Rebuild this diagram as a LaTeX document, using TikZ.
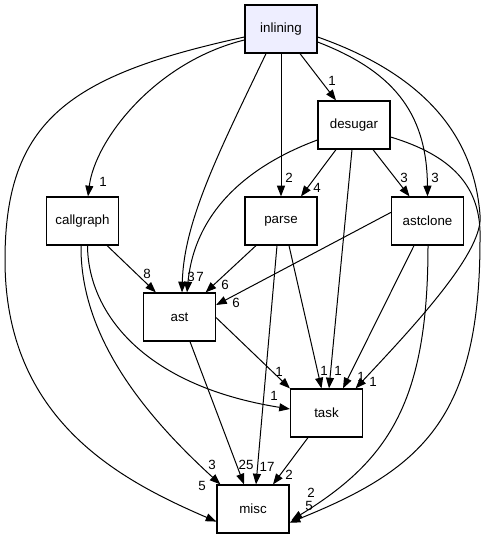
\documentclass[tikz,border=0pt]{standalone}
\usepackage{fontspec}
\setmainfont{Liberation Sans}
\usetikzlibrary{arrows.meta}
\definecolor{rootfill}{HTML}{EEEEFF}
\begin{document}
\begin{tikzpicture}[x=0.75pt,y=-0.75pt,
  dirbox/.style={draw=black,line width=0.9pt,fill=white,minimum width=54pt,minimum height=36pt,inner sep=0pt,font=\fontsize{10}{12}\selectfont},
  dep/.style={draw=black,line width=0.75pt,-{Triangle[length=8pt,width=6pt]}},
  lbl/.style={font=\fontsize{10}{12}\selectfont,inner sep=0pt}]
\useasboundingbox (0,0) rectangle (487,539);
% nodes
\node[dirbox,fill=rootfill] (inlining) at (281,29) {inlining};
\node[dirbox] (desugar) at (354,125) {desugar};
\node[dirbox] (callgraph) at (82.5,221) {callgraph};
\node[dirbox] (parse) at (281,221) {parse};
\node[dirbox] (astclone) at (427.5,221) {astclone};
\node[dirbox] (ast) at (179.5,317) {ast};
\node[dirbox] (task) at (326.5,413) {task};
\node[dirbox] (misc) at (253,509) {misc};
% edges from inlining
\draw[dep] ([shift={(19,0)}]inlining.south) -- ([shift={(-18,0)}]desugar.north);
\node[lbl] (l1) at (332,81) {1};
\draw[dep] ([shift={(0,11)}]inlining.west) .. controls (155,62) and (95,140) .. ([shift={(5.5,0)}]callgraph.north);
\node[lbl] (l2) at (103,182) {1};
\draw[dep] (inlining.south) -- (parse.north);
\node[lbl] (l3) at (289,178) {2};
\draw[dep] ([shift={(-15,0)}]inlining.south) .. controls (220,150) and (184,220) .. ([shift={(2.5,0)}]ast.north);
\node[lbl] (l4) at (191,277) {3};
\draw[dep] ([shift={(0,13)}]inlining.east) .. controls (390,70) and (427,110) .. (astclone.north);
\node[lbl] (l5) at (435,178) {3};
\draw[dep] ([shift={(0,8)}]inlining.east) .. controls (440,80) and (475,150) .. (480,215) .. controls (484,250) and (420,320) .. ([shift={(-7.5,0)}]task.north east);
\node[lbl] (l6) at (373,382) {1};
\draw[dep] ([shift={(0,8)}]inlining.west) .. controls (70,75) and (5,120) .. (5,260) .. controls (5,420) and (120,480) .. ([shift={(0,-12)}]misc.south west);
\node[lbl] (l7) at (202,486) {5};
% edges from desugar
\draw[dep] ([shift={(-18,0)}]desugar.south) -- ([shift={(20,0)}]parse.north);
\node[lbl] (l8) at (317,188) {4};
\draw[dep] ([shift={(19,0)}]desugar.south) -- ([shift={(-18,0)}]astclone.north);
\node[lbl] (l9) at (404,178) {3};
\draw[dep] ([shift={(0,15)}]desugar.west) .. controls (250,165) and (195,210) .. ([shift={(7.5,0)}]ast.north);
\node[lbl] (l10) at (200,277) {7};
\draw[dep] ([shift={(-2,0)}]desugar.south) -- ([shift={(2.5,0)}]task.north);
\node[lbl] (l11) at (338,371) {1};
\draw[dep] ([shift={(0,12)}]desugar.east) .. controls (450,155) and (482,185) .. (480,240) .. controls (480,420) and (420,470) .. ([shift={(0,-11)}]misc.south east);
\node[lbl] (l12) at (309,506) {5};
% edges from callgraph
\draw[dep] ([shift={(-12,0)}]callgraph.south east) -- ([shift={(13,0)}]ast.north west);
\node[lbl] (l13) at (147,274) {8};
\draw[dep] ([shift={(5,0)}]callgraph.south) .. controls (88,310) and (140,385) .. ([shift={(0,-4)}]task.west);
\node[lbl] (l14) at (274,396) {1};
\draw[dep] ([shift={(-1.5,0)}]callgraph.south) .. controls (80,340) and (150,420) .. ([shift={(4,0)}]misc.north west);
\node[lbl] (l15) at (212,465) {3};
% edges from parse
\draw[dep] ([shift={(-25,0)}]parse.south) -- ([shift={(-10.5,0)}]ast.north east);
\node[lbl] (l16) at (225,285) {6};
\draw[dep] ([shift={(8,0)}]parse.south) -- ([shift={(-5,0)}]task.north);
\node[lbl] (l17) at (324,371) {1};
\draw[dep] ([shift={(-4,0)}]parse.south) -- ([shift={(3,0)}]misc.north);
\node[lbl] (l18) at (267,467) {17};
% edges from astclone
\draw[dep] ([shift={(0,16)}]astclone.north west) -- ([shift={(0,-12)}]ast.east);
\node[lbl] (l19) at (236,303) {6};
\draw[dep] ([shift={(-13.5,0)}]astclone.south) -- ([shift={(16.5,0)}]task.north);
\node[lbl] (l20) at (361,377) {1};
\draw[dep] ([shift={(0.5,0)}]astclone.south) .. controls (428,400) and (390,460) .. ([shift={(2,-13.5)}]misc.south east);
\node[lbl] (l21) at (311,493) {2};
% edges from ast
\draw[dep] ([shift={(0,-24)}]ast.south east) -- (task.north west);
\node[lbl] (l22) at (279,372) {1};
\draw[dep] ([shift={(10.5,0)}]ast.south) -- ([shift={(-9,0)}]misc.north);
\node[lbl] (l23) at (246,465) {25};
% edges from task
\draw[dep] ([shift={(-18.5,0)}]task.south) -- ([shift={(20,0)}]misc.north);
\node[lbl] (l24) at (289,475) {2};
\end{tikzpicture}
\end{document}
